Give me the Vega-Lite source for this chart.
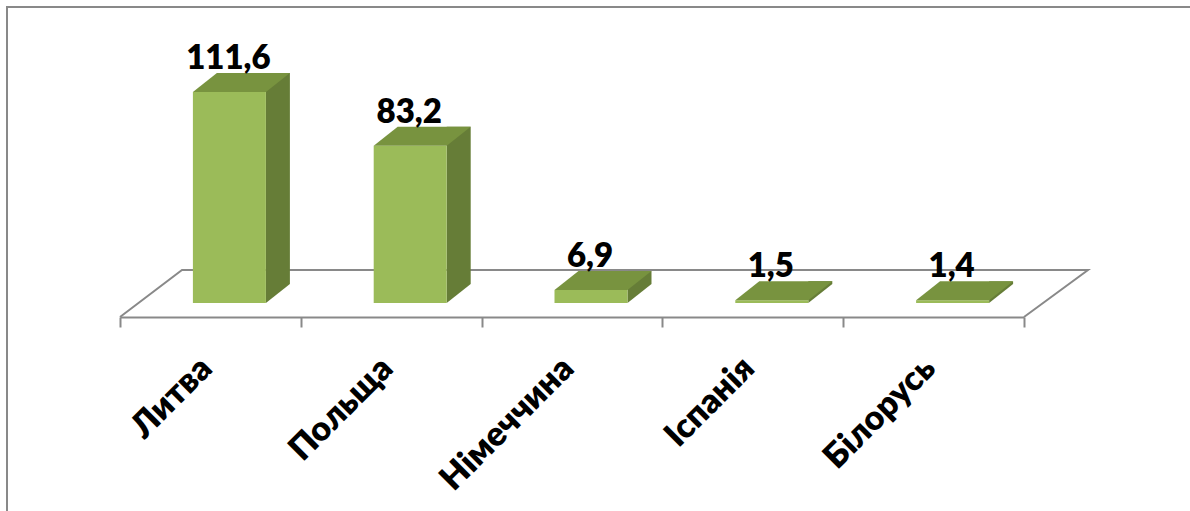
{
  "$schema": "https://vega.github.io/schema/vega-lite/v6.json",
  "width": 1195,
  "height": 524,
  "autosize": {"type": "none"},
  "padding": {"left": 7, "top": 7, "right": -12, "bottom": -20},
  "config": {
    "view": {"stroke": "#898989", "strokeWidth": 2},
    "locale": {"number": {"decimal": ",", "thousands": " ", "grouping": [3], "currency": ["", ""]}},
    "font": "Lato"
  },
  "data": {
    "values": [
      {"country": "Литва", "value": 111.6},
      {"country": "Польща", "value": 83.2},
      {"country": "Німеччина", "value": 6.9},
      {"country": "Іспанія", "value": 1.5},
      {"country": "Білорусь", "value": 1.4}
    ]
  },
  "encoding": {
    "x": {
      "field": "country",
      "type": "nominal",
      "sort": null,
      "scale": {"type": "band", "domain": ["Литва", "Польща", "Німеччина", "Іспанія", "Білорусь"], "range": [113, 1017], "paddingInner": 0, "paddingOuter": 0},
      "axis": {
        "title": null,
        "orient": "bottom",
        "offset": -214,
        "grid": false,
        "domainColor": "#898989",
        "domainWidth": 2,
        "tickColor": "#898989",
        "tickWidth": 2,
        "tickSize": 10,
        "tickBand": "extent",
        "labelAngle": -45,
        "labelAlign": "right",
        "labelBaseline": "middle",
        "labelFontSize": 34,
        "labelFont": "Lato",
        "labelFontWeight": 800,
        "labelColor": "black",
        "labelPadding": 36,
        "labelOffset": -4,
        "labelLimit": 400
      }
    },
    "y": {
      "field": "value",
      "type": "quantitative",
      "scale": {"domain": [0, 120], "range": [296, 69.1], "nice": false, "zero": true},
      "axis": null
    }
  },
  "layer": [
    {
      "data": {"values": [{"country": "Литва", "value": 0}]},
      "mark": {"type": "point", "shape": "M -90.4 14 L -28.4 -33 L 877.6 -33 L 813.6 14", "size": 4, "filled": false, "color": "#898989", "strokeWidth": 2, "opacity": 1}
    },
    {
      "mark": {"type": "bar", "width": 24, "xOffset": 67.5, "yOffset": -19, "y2Offset": -19, "color": "#667d37"},
      "encoding": {"y2": {"datum": 0}}
    },
    {
      "mark": {"type": "point", "shape": "M 55.5 0 L 55.5 -19 L 79.5 -19 Z", "size": 4, "filled": true, "color": "#667d37", "opacity": 1},
      "encoding": {"y": {"datum": 0}}
    },
    {
      "mark": {"type": "bar", "width": 73, "xOffset": 19, "color": "#9bbb59"},
      "encoding": {"y2": {"datum": 0}}
    },
    {
      "mark": {"type": "point", "shape": "M -17.5 0 L 55.5 0 L 79.5 -19 L 6.5 -19 Z", "size": 4, "filled": true, "color": "#78933f", "opacity": 1}
    },
    {
      "mark": {"type": "text", "xOffset": 18, "yOffset": -23, "baseline": "alphabetic", "align": "center", "fontSize": 33, "fontWeight": 800, "font": "Lato", "color": "black"},
      "encoding": {"text": {"field": "value", "type": "quantitative", "format": ".1f"}}
    }
  ]
}
